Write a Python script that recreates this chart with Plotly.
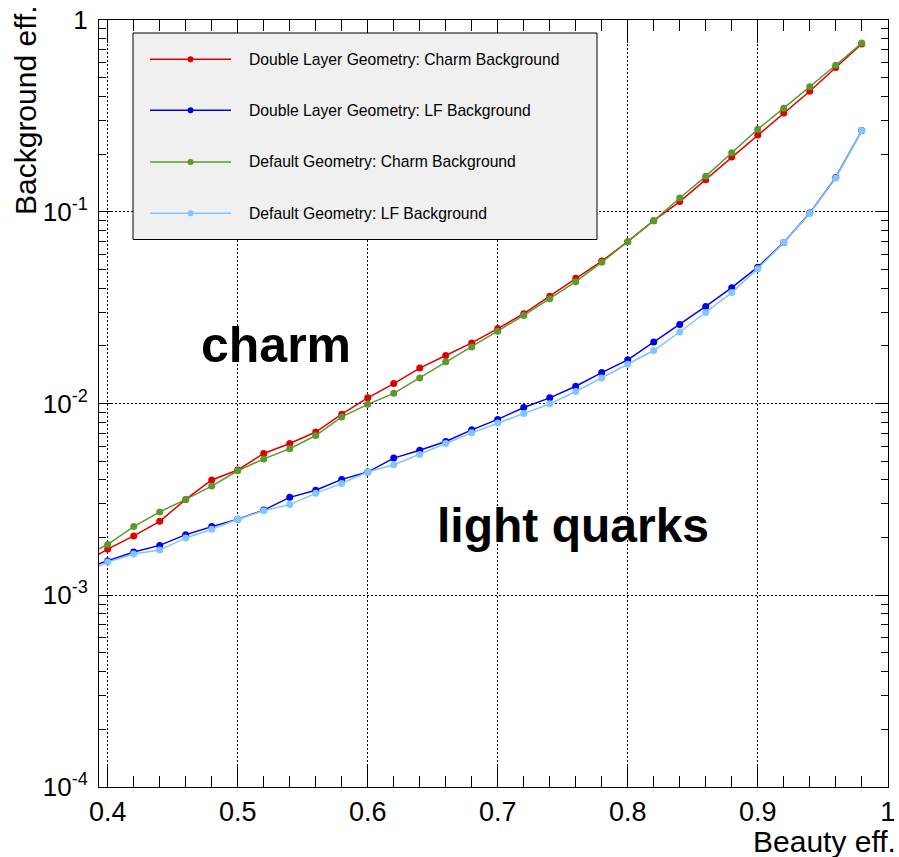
import plotly.graph_objects as go

# ---------------- data ----------------
beauty_eff = [0.38, 0.40, 0.42, 0.44, 0.46, 0.48, 0.50, 0.52, 0.54, 0.56, 0.58,
              0.60, 0.62, 0.64, 0.66, 0.68, 0.70, 0.72, 0.74, 0.76, 0.78,
              0.80, 0.82, 0.84, 0.86, 0.88, 0.90, 0.92, 0.94, 0.96, 0.98]

dl_charm = [1.46e-3, 1.74e-3, 2.04e-3, 2.43e-3, 3.16e-3, 3.99e-3, 4.50e-3, 5.49e-3, 6.19e-3, 7.10e-3, 8.79e-3,
            1.07e-2, 1.27e-2, 1.53e-2, 1.78e-2, 2.07e-2, 2.46e-2, 2.94e-2, 3.63e-2, 4.50e-2, 5.53e-2,
            6.98e-2, 8.98e-2, 0.113, 0.147, 0.193, 0.251, 0.327, 0.425, 0.565, 0.750]

dl_lf = [1.36e-3, 1.51e-3, 1.68e-3, 1.82e-3, 2.07e-3, 2.28e-3, 2.49e-3, 2.78e-3, 3.24e-3, 3.53e-3, 4.02e-3,
         4.39e-3, 5.19e-3, 5.71e-3, 6.34e-3, 7.29e-3, 8.26e-3, 9.53e-3, 1.07e-2, 1.23e-2, 1.45e-2,
         1.69e-2, 2.09e-2, 2.58e-2, 3.21e-2, 4.02e-2, 5.14e-2, 6.92e-2, 9.84e-2, 0.151, 0.265]

def_charm = [1.57e-3, 1.84e-3, 2.28e-3, 2.72e-3, 3.16e-3, 3.71e-3, 4.46e-3, 5.14e-3, 5.81e-3, 6.81e-3, 8.51e-3,
             9.90e-3, 1.13e-2, 1.36e-2, 1.65e-2, 1.97e-2, 2.38e-2, 2.88e-2, 3.52e-2, 4.32e-2, 5.45e-2,
             6.98e-2, 8.98e-2, 0.118, 0.153, 0.203, 0.269, 0.347, 0.448, 0.581, 0.758]

def_lf = [1.28e-3, 1.49e-3, 1.64e-3, 1.72e-3, 1.99e-3, 2.21e-3, 2.49e-3, 2.76e-3, 2.97e-3, 3.40e-3, 3.83e-3,
          4.39e-3, 4.79e-3, 5.42e-3, 6.19e-3, 7.03e-3, 7.92e-3, 8.87e-3, 9.96e-3, 1.155e-2, 1.36e-2,
          1.60e-2, 1.89e-2, 2.36e-2, 2.98e-2, 3.79e-2, 5.05e-2, 6.92e-2, 9.80e-2, 0.150, 0.265]

series_names = ["Double Layer Geometry: Charm Background",
                "Double Layer Geometry: LF Background",
                "Default Geometry: Charm Background",
                "Default Geometry: LF Background"]
series_values = [dl_charm, dl_lf, def_charm, def_lf]
series_colors = ["#e00000", "#0000f0", "#5a9a2a", "#80c6ff"]

y_tickvals = [1e-4, 1e-3, 1e-2, 1e-1, 1]
y_ticktext = ["10<sup>-4</sup>", "10<sup>-3</sup>", "10<sup>-2</sup>", "10<sup>-1</sup>", "1"]

x_title = "Beauty eff."
y_title = "Background eff."
region_labels = ["charm", "light quarks"]

FONT = "Liberation Sans, Arial, Helvetica, sans-serif"

# ---------------- layout geometry (pixels of the 899x857 canvas) ----------------
W, H = 899, 857
L, R, T, B = 99, 888, 20, 787


def px_x(px):
    return (px - L) / (R - L)


def px_y(py):
    return (B - py) / (B - T)


fig = go.Figure()
for name, vals, col in zip(series_names, series_values, series_colors):
    fig.add_trace(go.Scatter(
        x=beauty_eff, y=vals, name=name, mode="lines+markers",
        line=dict(color=col, width=1.5),
        marker=dict(color=col, size=7, symbol="circle"),
        showlegend=False,
    ))

shapes = []
annotations = []

# legend box (drawn by hand to match the reference's legend)
shapes.append(dict(type="rect", xref="paper", yref="paper",
                   x0=px_x(133), x1=px_x(597), y0=px_y(239.5), y1=px_y(33),
                   fillcolor="#f0f0f0", line=dict(color="black", width=1), layer="above"))
entry_y = [59.3, 110.3, 162.0, 213.3]
for name, col, ey in zip(series_names, series_colors, entry_y):
    shapes.append(dict(type="line", xref="paper", yref="paper",
                       x0=px_x(150), x1=px_x(231), y0=px_y(ey), y1=px_y(ey),
                       line=dict(color=col, width=1.5), layer="above"))
    shapes.append(dict(type="circle", xref="paper", yref="paper",
                       x0=px_x(187.5), x1=px_x(193.5), y0=px_y(ey + 3), y1=px_y(ey - 3),
                       fillcolor=col, line=dict(color=col, width=0), layer="above"))
    annotations.append(dict(text=name, xref="paper", yref="paper",
                            x=px_x(247), y=px_y(ey), xanchor="left", yanchor="middle",
                            showarrow=False, font=dict(family=FONT, size=15.7, color="black")))

# axis titles (ROOT style: placed at the axis ends)
annotations.append(dict(text=x_title, xref="paper", yref="paper",
                        x=px_x(898), y=px_y(841), xanchor="right", yanchor="middle",
                        showarrow=False, font=dict(family=FONT, size=30, color="black")))
annotations.append(dict(text=y_title, xref="paper", yref="paper",
                        x=px_x(26), y=px_y(3), xanchor="center", yanchor="top", textangle=-90,
                        showarrow=False, font=dict(family=FONT, size=30, color="black")))

# region labels
annotations.append(dict(text=region_labels[0], xref="x", yref="y",
                        x=0.4705, y=-1.696, xanchor="left", yanchor="middle",
                        showarrow=False, font=dict(family=FONT, size=50, color="black", weight="bold")))
annotations.append(dict(text=region_labels[1], xref="x", yref="y",
                        x=0.652, y=-2.634, xanchor="left", yanchor="middle",
                        showarrow=False, font=dict(family=FONT, size=48, color="black", weight="bold")))

grid_dash = "2px,2px"
fig.update_layout(
    width=W, height=H,
    margin=dict(l=L, r=W - R, t=T, b=H - B, pad=0, autoexpand=False),
    paper_bgcolor="white", plot_bgcolor="white",
    font=dict(family=FONT, color="black"),
    showlegend=False,
    shapes=shapes, annotations=annotations,
    xaxis=dict(
        range=[0.3933, 1.0002], tick0=0.4, dtick=0.1, automargin=False,
        ticks="inside", ticklen=23, tickwidth=1, tickcolor="black",
        showline=True, linecolor="black", linewidth=1, mirror="ticks",
        showgrid=True, gridcolor="black", gridwidth=1, griddash=grid_dash,
        zeroline=False,
        tickfont=dict(family=FONT, size=27, color="black"),
        ticklabelstandoff=1,
        minor=dict(dtick=0.02, ticks="inside", ticklen=11, tickcolor="black", tickwidth=1, showgrid=False),
    ),
    yaxis=dict(
        type="log", range=[-4, 0], tickmode="array", tickvals=y_tickvals, ticktext=y_ticktext,
        automargin=False,
        ticks="inside", ticklen=12, tickwidth=1, tickcolor="black",
        showline=True, linecolor="black", linewidth=1, mirror="ticks",
        showgrid=True, gridcolor="black", gridwidth=1, griddash=grid_dash,
        zeroline=False,
        tickfont=dict(family=FONT, size=26, color="black"),
        ticklabelstandoff=5,
        minor=dict(dtick="D1", ticks="inside", ticklen=7, tickcolor="black", tickwidth=1, showgrid=False),
    ),
)

fig.write_html("out.html")
